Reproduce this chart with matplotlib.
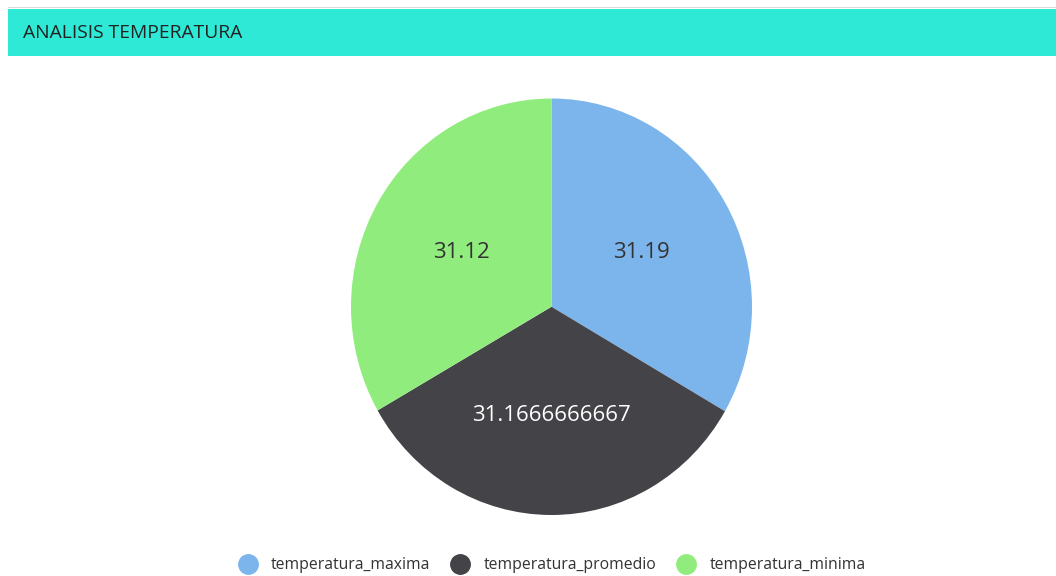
import numpy as np
import matplotlib.pyplot as plt
from matplotlib.patches import Rectangle
from matplotlib.lines import Line2D

plt.rcParams['font.family'] = ['Open Sans', 'DejaVu Sans']

labels = ['temperatura_maxima', 'temperatura_promedio', 'temperatura_minima']
values = [31.19, 31.1666666667, 31.12]
value_text = ['31.19', '31.1666666667', '31.12']
colors = ['#7cb5ec', '#434348', '#90ed7d']
text_colors = ['#333333', '#ffffff', '#333333']

W, H = 1056, 576
fig = plt.figure(figsize=(10.56, 5.76), dpi=100)
fig.patch.set_facecolor('white')

# barra de titulo
fig.patches.append(Rectangle((8/W, 1-8/H), 1-8/W, 1.5/H, transform=fig.transFigure,
                             facecolor='#d9d9d9', edgecolor='none'))
fig.patches.append(Rectangle((8/W, 1-56/H), 1-8/W, 47/H, transform=fig.transFigure,
                             facecolor='#2de9d6', edgecolor='none'))
fig.text(23/W, 1-33/H, 'ANALISIS TEMPERATURA', fontsize=13.9, color='#222222', va='center', ha='left')

# pie (la imagen original esta un poco estirada en vertical)
ax = fig.add_axes([351/W, 1-515/H, 401/W, 416.5/H])
wedges, _ = ax.pie(values, colors=colors, startangle=90, counterclock=False,
                   wedgeprops=dict(linewidth=0))
ax.set_xlim(-1, 1)
ax.set_ylim(-1, 1)
ax.set_aspect('auto')

r = 0.52
for w, t, c in zip(wedges, value_text, text_colors):
    ang = np.deg2rad((w.theta1 + w.theta2) / 2)
    ax.text(r*np.cos(ang), r*np.sin(ang), t, ha='center', va='center', fontsize=16, color=c)

handles = [Line2D([], [], marker='o', linestyle='none', markersize=14,
                  markerfacecolor=c, markeredgecolor=c) for c in colors]
fig.legend(handles, labels, loc='center', bbox_to_anchor=(549/W, 1-565/H), ncol=3,
           frameon=False, fontsize=11.3, handletextpad=0.5, columnspacing=0.9,
           labelcolor='#333333')

fig.savefig('out.png', dpi=100)
